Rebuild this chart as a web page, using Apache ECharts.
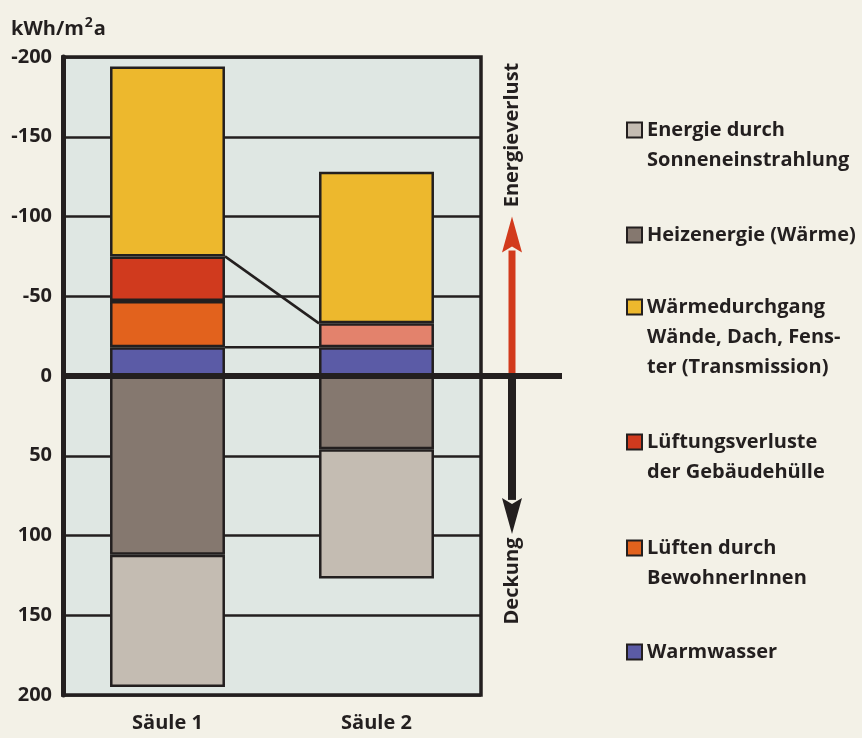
<!DOCTYPE html>
<html>
<head>
<meta charset="utf-8">
<script src="https://cdn.jsdelivr.net/npm/echarts@6/dist/echarts.min.js"></script>
<style>
  html, body { margin: 0; padding: 0; background: #f3f1e7; }
  #chart { width: 862px; height: 738px; }
</style>
</head>
<body>
<div id="chart"></div>
<script>
// ---- data (kWh/m²a): losses negative (drawn upward), coverage positive (drawn downward)
const categories = ['Säule 1', 'Säule 2'];
const yTicks = [-200, -150, -100, -50, 0, 50, 100, 150, 200];
const warmwasser = [-18, -18];
const lueftenBewohner = [-29, null];
const lueftungsverluste = [-28, -15];
const waermedurchgang = [-119, -95];
const heizenergie = [112, 46];
const sonneneinstrahlung = [83, 81];

// legend texts, one entry per line
const legendLines = {
  'Sonneneinstrahlung': ['Energie durch', 'Sonneneinstrahlung'],
  'Heizenergie': ['Heizenergie (Wärme)'],
  'Wärmedurchgang': ['Wärmedurchgang', 'Wände, Dach, Fens-', 'ter (Transmission)'],
  'Lüftungsverluste': ['Lüftungsverluste', 'der Gebäudehülle'],
  'Lüften': ['Lüften durch', 'BewohnerInnen'],
  'Warmwasser': ['Warmwasser']
};
const legendOrder = ['Sonneneinstrahlung', 'Heizenergie', 'Wärmedurchgang', 'Lüftungsverluste', 'Lüften', 'Warmwasser'];

// ---- styling
const FONT = 'Open Sans';
const INK = '#231f1f';
const colors = {
  'Warmwasser': '#5b5ba6',
  'Lüften': '#e2621d',
  'Lüftungsverluste': '#d03a1e',
  'Wärmedurchgang': '#edb82d',
  'Heizenergie': '#85786f',
  'Sonneneinstrahlung': '#c4bcb2'
};
const reducedVentColor = '#e3826c';
const BAR_FRACTION = 0.55;          // bar width as share of a category band
const legendFirstLineY = [130, 235, 307, 442, 548, 652];
const LINE_H = 30;

const chart = echarts.init(document.getElementById('chart'), null, { renderer: 'canvas' });

function barSeries(name, values, overrides) {
  return {
    name: name,
    type: 'bar',
    stack: 'total',
    barWidth: (BAR_FRACTION * 100) + '%',
    xAxisIndex: 0,
    yAxisIndex: 0,
    itemStyle: { color: colors[name], borderColor: INK, borderWidth: 2.5 },
    data: values.map((v, i) => (overrides && overrides[i]) ? { value: v, itemStyle: { color: overrides[i] } } : v),
    z: 3
  };
}

// stack tops used by the connector lines
const sum = arr => arr.reduce((a, b) => a + (b || 0), 0);
const s1VentTop = sum([warmwasser[0], lueftenBewohner[0], lueftungsverluste[0]]);
const s2VentTop = sum([warmwasser[1], lueftenBewohner[1], lueftungsverluste[1]]);
const half = BAR_FRACTION / 2;

const legends = legendOrder.map((name, i) => {
  const lines = legendLines[name];
  const n = lines.length;
  return {
    data: [name],
    orient: 'vertical',
    left: 626,
    top: legendFirstLineY[i] - (2 * n - 1) * LINE_H / 2,
    itemWidth: 15,
    itemHeight: 15,
    icon: 'rect',
    selectedMode: false,
    padding: 0,
    formatter: () => new Array(n - 1).fill('').concat(lines).join('\n'),
    textStyle: { fontFamily: FONT, fontWeight: 'bold', fontSize: 20, lineHeight: LINE_H, color: INK }
  };
});

chart.setOption({
  backgroundColor: '#f3f1e7',
  animation: false,
  title: {
    text: '{a|kWh/m}{s|2}{a|a}',
    left: 6,
    top: 4,
    textStyle: {
      rich: {
        a: { fontFamily: FONT, fontWeight: 'bold', fontSize: 20, color: INK, lineHeight: 30, verticalAlign: 'bottom' },
        s: { fontFamily: FONT, fontWeight: 'bold', fontSize: 14, color: INK, lineHeight: 30, verticalAlign: 'bottom', padding: [0, 1, 9, 1] }
      }
    }
  },
  legend: legends,
  grid: {
    left: 63, right: 381, top: 57, bottom: 43,
    show: true,
    backgroundColor: '#dfe7e3',
    borderColor: INK,
    borderWidth: 3.5
  },
  xAxis: [
    {
      type: 'category',
      data: categories,
      axisLine: { show: false, onZero: false },
      axisTick: { show: false },
      axisLabel: { fontFamily: FONT, fontWeight: 'bold', fontSize: 20, color: INK, margin: 18 }
    },
    { type: 'value', min: 0, max: categories.length, show: false }
  ],
  yAxis: {
    type: 'value',
    inverse: true,
    min: yTicks[0],
    max: yTicks[yTicks.length - 1],
    interval: yTicks[1] - yTicks[0],
    axisLine: { show: true, lineStyle: { color: INK, width: 5 } },
    axisTick: { show: false },
    splitLine: { show: true, lineStyle: { color: INK, width: 2.5 } },
    axisLabel: { fontFamily: FONT, fontWeight: 'bold', fontSize: 20, color: INK, margin: 11 }
  },
  series: [
    barSeries('Warmwasser', warmwasser),
    barSeries('Lüften', lueftenBewohner),
    barSeries('Lüftungsverluste', lueftungsverluste, [null, reducedVentColor]),
    barSeries('Wärmedurchgang', waermedurchgang),
    barSeries('Heizenergie', heizenergie),
    barSeries('Sonneneinstrahlung', sonneneinstrahlung),
    {
      type: 'line', xAxisIndex: 1, yAxisIndex: 0, silent: true, symbol: 'none', z: 2,
      lineStyle: { color: INK, width: 2.5 },
      data: [[0.5 + half, s1VentTop], [1.5 - half, s2VentTop]]
    },
    {
      type: 'line', xAxisIndex: 1, yAxisIndex: 0, silent: true, symbol: 'none', z: 2,
      lineStyle: { color: INK, width: 2.5 },
      data: [[0.5 + half, warmwasser[0]], [1.5 - half, warmwasser[1]]]
    }
  ]
});

// zero line extended past the plot, plus the direction arrows
const zeroY = chart.convertToPixel({ yAxisIndex: 0 }, 0);
const leftX = chart.convertToPixel({ xAxisIndex: 1 }, 0);
const rightX = chart.convertToPixel({ xAxisIndex: 1 }, categories.length);
const arrowX = rightX + 31;
const upTip = chart.convertToPixel({ yAxisIndex: 0 }, -100);
const downTip = chart.convertToPixel({ yAxisIndex: 0 }, 99);
const HEAD = 36, HEAD_W = 10;

chart.setOption({
  graphic: [
    {
      type: 'rect', z: 50, silent: true,
      shape: { x: arrowX - 3.5, y: upTip + HEAD - 2, width: 7, height: zeroY - upTip - HEAD + 2 },
      style: { fill: '#d23a1c' }
    },
    {
      type: 'polygon', z: 50, silent: true,
      shape: { points: [[arrowX, upTip], [arrowX - HEAD_W, upTip + HEAD], [arrowX, upTip + HEAD - 6], [arrowX + HEAD_W, upTip + HEAD]] },
      style: { fill: '#d23a1c' }
    },
    {
      type: 'rect', z: 50, silent: true,
      shape: { x: arrowX - 4, y: zeroY, width: 8, height: downTip - zeroY - HEAD + 2 },
      style: { fill: INK }
    },
    {
      type: 'polygon', z: 50, silent: true,
      shape: { points: [[arrowX, downTip], [arrowX - HEAD_W, downTip - HEAD], [arrowX, downTip - HEAD + 6], [arrowX + HEAD_W, downTip - HEAD]] },
      style: { fill: INK }
    },
    {
      type: 'line', z: 60, silent: true,
      shape: { x1: leftX - 2, y1: zeroY, x2: rightX + 81, y2: zeroY },
      style: { stroke: INK, lineWidth: 6 }
    },
    {
      type: 'text', z: 60, silent: true,
      x: arrowX, y: 135, rotation: Math.PI / 2,
      style: { text: 'Energieverlust', fontFamily: FONT, fontWeight: 'bold', fontSize: 20, fill: INK, align: 'center', verticalAlign: 'middle' }
    },
    {
      type: 'text', z: 60, silent: true,
      x: arrowX, y: 581, rotation: Math.PI / 2,
      style: { text: 'Deckung', fontFamily: FONT, fontWeight: 'bold', fontSize: 20, fill: INK, align: 'center', verticalAlign: 'middle' }
    }
  ]
});
</script>
</body>
</html>
